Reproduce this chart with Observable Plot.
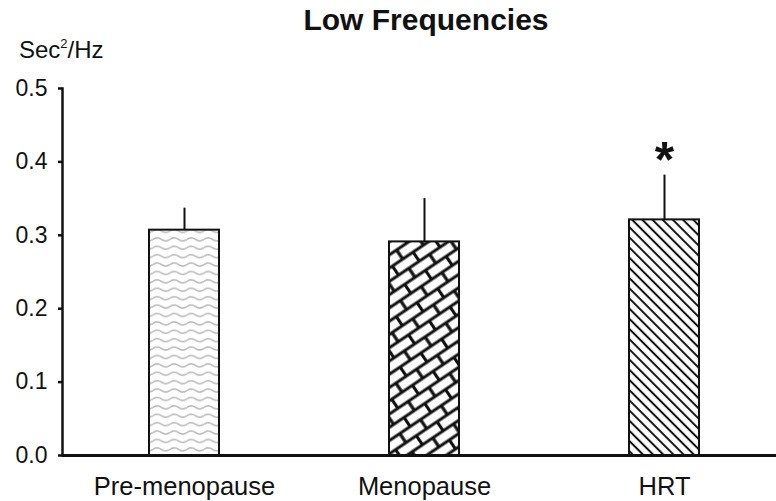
<!DOCTYPE html>
<html>
<head>
<meta charset="utf-8">
<script src="https://cdn.jsdelivr.net/npm/d3@7"></script>
<script src="https://cdn.jsdelivr.net/npm/@observablehq/plot@0.6"></script>
<style>
  html, body { margin: 0; padding: 0; background: #fff; }
  #wrap { position: relative; width: 776px; height: 501px; font-family: "Liberation Sans", Arial, sans-serif; color: #111; }
  #title { position: absolute; left: 0; width: 852px; top: 3px; text-align: center; font-weight: bold; font-size: 30px; }
  #ylab { position: absolute; left: 19px; top: 36px; font-size: 24px; }
  #ylab sup { font-size: 13px; vertical-align: 10px; line-height: 0; }
  #chart { position: absolute; left: 0; top: 0; }
</style>
</head>
<body>
<div id="wrap">
  <div id="chart"></div>
  <div id="title">Low Frequencies</div>
  <div id="ylab">Sec<sup>2</sup>/Hz</div>
</div>
<script>
const categories = ["Pre-menopause", "Menopause", "HRT"];
const means = [0.307, 0.291, 0.321];
const errors = [0.030, 0.059, 0.061];
const significant = [false, false, true];
const yTicks = [0.0, 0.1, 0.2, 0.3, 0.4, 0.5];

const data = categories.map((c, i) => ({ group: c, mean: means[i], err: errors[i], sig: significant[i] }));

const svg = Plot.plot({
  width: 776,
  height: 501,
  marginLeft: 62,
  marginRight: 0,
  marginTop: 88,
  marginBottom: 46,
  style: { fontFamily: "Liberation Sans, Arial, sans-serif", color: "#111", background: "transparent" },
  x: { domain: categories, range: [100.9, 747.6], paddingInner: 0.7087, paddingOuter: 0.2, label: null },
  y: { domain: [0, 0.5], label: null },
  color: { domain: categories, range: ["url(#wave)", "url(#brick)", "url(#diag)"] },
  marks: [
    Plot.barY(data, { x: "group", y: "mean", fill: "group", stroke: "#111", strokeWidth: 2 }),
    Plot.ruleX(data, { x: "group", y1: "mean", y2: d => d.mean + d.err, stroke: "#111", strokeWidth: 2 }),
    Plot.text(data.filter(d => d.sig), { x: "group", y: d => d.mean + d.err, text: () => "*", fontSize: 50, fontWeight: "bold", lineAnchor: "bottom", dy: 2, fill: "#111" }),
    Plot.axisY({ ticks: yTicks, tickFormat: d3.format(".1f"), tickSize: 4, tickPadding: 11, fontSize: 23, strokeWidth: 2.5, label: null }),
    Plot.axisX({ tickSize: 0, tickPadding: 21, fontSize: 25.5, label: null }),
    Plot.frame({ anchor: "left", stroke: "#111", strokeWidth: 2.5 }),
    Plot.ruleY([0], { stroke: "#111", strokeWidth: 3 })
  ]
});

const defs = `
<defs>
  <pattern id="wave" patternUnits="userSpaceOnUse" width="17" height="8.4">
    <rect width="17" height="8.4" fill="#fff"/>
    <path d="M0,4.2 Q4.25,1.2 8.5,4.2 T17,4.2" fill="none" stroke="#bdbdbd" stroke-width="1.6"/>
  </pattern>
  <pattern id="brick" patternUnits="userSpaceOnUse" width="25" height="22" patternTransform="rotate(-34)">
    <rect width="25" height="22" fill="#fff"/>
    <path d="M0,0H25M0,11H25M0,22H25M1.5,0V11M14,11V22" stroke="#111" stroke-width="3.2" fill="none"/>
  </pattern>
  <pattern id="diag" patternUnits="userSpaceOnUse" width="7.2" height="10" patternTransform="rotate(-45)">
    <rect width="7.2" height="10" fill="#fff"/>
    <line x1="3.6" y1="0" x2="3.6" y2="10" stroke="#111" stroke-width="2"/>
  </pattern>
</defs>`;
svg.insertAdjacentHTML("afterbegin", defs);
document.getElementById("chart").appendChild(svg);
</script>
</body>
</html>
